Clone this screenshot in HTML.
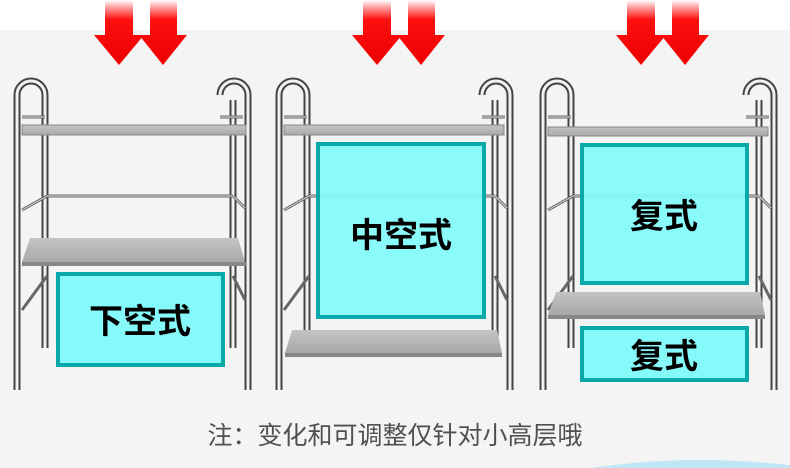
<!DOCTYPE html>
<html><head><meta charset="utf-8"><style>
html,body{margin:0;padding:0;}
body{width:790px;height:468px;overflow:hidden;background:#f4f4f4;font-family:"Liberation Sans","Noto Sans CJK SC",sans-serif;}
svg{display:block;}
</style></head><body>
<svg width="790" height="468" xmlns="http://www.w3.org/2000/svg">
<defs>
<linearGradient id="ar" x1="0" y1="0" x2="0" y2="1"><stop offset="0" stop-color="#ff0000" stop-opacity="0"/><stop offset="0.3" stop-color="#ff1010"/><stop offset="1" stop-color="#ee0000"/></linearGradient>
<linearGradient id="sh" x1="0" y1="0" x2="0" y2="1"><stop offset="0" stop-color="#c4c4c4"/><stop offset="1" stop-color="#a8a8a8"/></linearGradient>
<g id="frame">
  <path d="M17,390 V95 A14,14 0 0 1 45,95 V348 M248,390 V95 A14,14 0 0 0 220,95 M233,348 V100" fill="none" stroke="#444" stroke-width="7"/>
  <path d="M17,390 V95 A14,14 0 0 1 45,95 V348 M248,390 V95 A14,14 0 0 0 220,95 M233,348 V100" fill="none" stroke="#f2f2f2" stroke-width="3"/>
  <path d="M22,117 H45 M220,117 H243 M22,210 L47,196 M47,196 H233 M233,196 L245,208 M22,310 L47,276 M233,276 L245,300" stroke="#666" stroke-width="3" fill="none"/>
  <path d="M22,117 H45 M220,117 H243 M22,210 L47,196 M47,196 H233 M233,196 L245,208" stroke="#ddd" stroke-width="1" fill="none"/>
</g>
<g id="arrows">
  <path d="M105,0 H133 V35 H144 L119,65 L94,35 H105 Z" fill="url(#ar)"/>
  <path d="M150,0 H177 V35 H187 L163,65 L139,35 H150 Z" fill="url(#ar)"/>
</g>
</defs>
<rect x="0" y="0" width="790" height="30" fill="#fff"/>
<path d="M590,468 Q700,452 810,468 Z" fill="#bfe6f4"/>

<use href="#arrows"/>
<use href="#frame"/>
<rect x="22" y="125" width="224" height="10" fill="url(#sh)" stroke="#888" stroke-width="1"/>
<path d="M30,238 H238 L245,262 H22 Z" fill="url(#sh)"/>
<rect x="22" y="262" width="224" height="4" fill="#888"/>
<rect x="58" y="274" width="165" height="91" fill="rgba(128,250,250,0.95)" stroke="#0aa9a9" stroke-width="4"/>
<text x="140" y="333" font-size="34" text-anchor="middle" fill="#000" font-family="'Noto Sans CJK SC',sans-serif" font-weight="bold">下空式</text>

<g transform="translate(262,0)"><use href="#arrows" transform="translate(-4,0)"/><use href="#frame"/></g>
<rect x="284" y="125" width="220" height="10" fill="url(#sh)" stroke="#888" stroke-width="1"/>
<path d="M292,330 H497 L502,353 H285 Z" fill="url(#sh)"/>
<rect x="285" y="353" width="217" height="4" fill="#888"/>
<rect x="318" y="144" width="166" height="173" fill="rgba(128,250,250,0.92)" stroke="#0aa9a9" stroke-width="4"/>
<text x="401" y="247" font-size="34" text-anchor="middle" fill="#000" font-family="'Noto Sans CJK SC',sans-serif" font-weight="bold">中空式</text>

<g transform="translate(526,0)"><use href="#arrows" transform="translate(-4,0)"/><use href="#frame"/></g>
<rect x="548" y="127" width="220" height="9" fill="url(#sh)" stroke="#888" stroke-width="1"/>
<path d="M556,292 H760 L765,315 H548 Z" fill="url(#sh)"/>
<rect x="548" y="315" width="217" height="4" fill="#888"/>
<rect x="582" y="145" width="165" height="138" fill="rgba(128,250,250,0.92)" stroke="#0aa9a9" stroke-width="4"/>
<text x="664" y="228" font-size="34" text-anchor="middle" fill="#000" font-family="'Noto Sans CJK SC',sans-serif" font-weight="bold">复式</text>
<rect x="582" y="328" width="165" height="52" fill="rgba(128,250,250,0.95)" stroke="#0aa9a9" stroke-width="4"/>
<text x="664" y="368" font-size="34" text-anchor="middle" fill="#000" font-family="'Noto Sans CJK SC',sans-serif" font-weight="bold">复式</text>

<text x="395" y="444" font-size="25" text-anchor="middle" fill="#505050" font-family="'Noto Sans CJK SC',sans-serif">注：变化和可调整仅针对小高层哦</text>
</svg>
</body></html>
